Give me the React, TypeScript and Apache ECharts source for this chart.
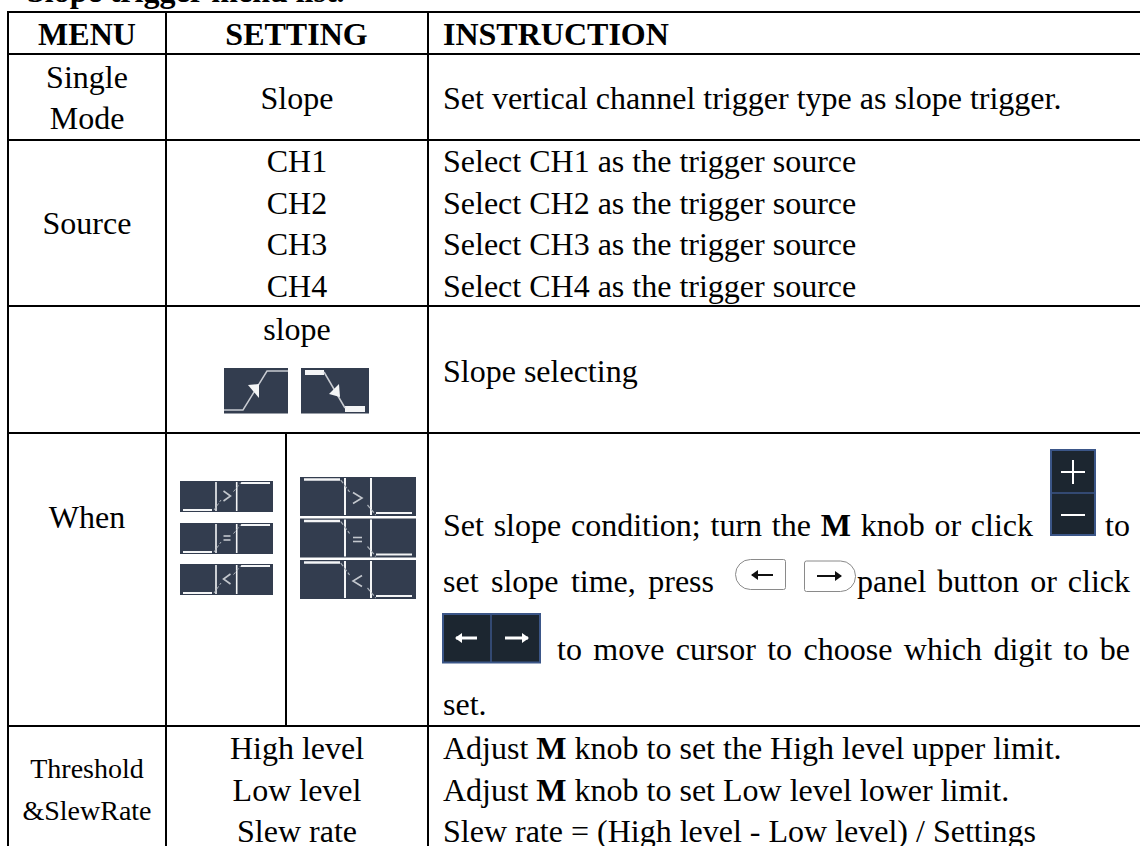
import React, { useEffect, useRef } from "react";
import * as echarts from "echarts";

const titleText = "Slope trigger menu list.";
const headers = ["MENU", "SETTING", "INSTRUCTION"];
const menuLabels = ["Single", "Mode", "Source", "When"];
const thresholdLabels = ["Threshold", "&SlewRate"];
const slopeSetting = ["Slope"];
const channels = ["CH1", "CH2", "CH3", "CH4"];
const slopeLabel = ["slope"];
const levelLabels = ["High level", "Low level", "Slew rate"];
const singleInstruction = ["Set vertical channel trigger type as slope trigger."];
const channelInstructions = [
  "Select CH1 as the trigger source",
  "Select CH2 as the trigger source",
  "Select CH3 as the trigger source",
  "Select CH4 as the trigger source",
];
const slopeInstruction = ["Slope selecting"];
const whenLine1a = "Set slope condition; turn the M knob or click";
const whenLine1b = "to";
const whenLine2a = "set slope time, press";
const whenLine2b = "panel button or click";
const whenLine3 = "to move cursor to choose which digit to be";
const whenLine4 = "set.";
const thresholdLines = [
  "Adjust M knob to set the High level upper limit.",
  "Adjust M knob to set Low level lower limit.",
  "Slew rate = (High level - Low level) / Settings",
];
const comparators = [">", "=", "<"];

const SERIF = '"Liberation Serif", serif';
const BLACK = "#000";
const SIZE = 32;

const measure = (() => {
  const ctx = document.createElement("canvas").getContext("2d")!;
  return (t: string, font: string) => {
    ctx.font = font;
    return ctx.measureText(t).width;
  };
})();

const fontOf = (size: number, bold = false) => `${bold ? "bold " : ""}${size}px ${SERIF}`;

function txt(text: string, x: number, y: number, size = SIZE, bold = false, align = "left"): any {
  return {
    type: "text",
    silent: true,
    style: { text, x, y, font: fontOf(size, bold), fill: BLACK, textAlign: align, textVerticalAlign: "middle" },
  };
}

function ln(x1: number, y1: number, x2: number, y2: number, stroke = BLACK, lineWidth = 2, lineDash?: number[]): any {
  return { type: "line", silent: true, shape: { x1, y1, x2, y2 }, style: { stroke, lineWidth, lineDash } };
}

function box(x: number, y: number, width: number, height: number, fill: string, stroke?: string, lineWidth = 0): any {
  return { type: "rect", silent: true, shape: { x, y, width, height }, style: { fill, stroke, lineWidth } };
}

// Line with a bold "M": split into runs set one after the other
function mixedLine(line: string, x: number, y: number): any[] {
  const parts = line.split(" M ");
  if (parts.length < 2) return [txt(line, x, y)];
  const out: any[] = [];
  let cx = x;
  const space = measure(" ", fontOf(SIZE));
  out.push(txt(parts[0], cx, y));
  cx += measure(parts[0], fontOf(SIZE)) + space;
  out.push(txt("M", cx, y, SIZE, true));
  cx += measure("M", fontOf(SIZE, true)) + space;
  out.push(txt(parts[1], cx, y));
  return out;
}

// Justified line: words spread evenly between x0 and x1
function justified(line: string, x0: number, x1: number, y: number): any[] {
  const words = line.split(" ");
  const widths = words.map((w) => measure(w, fontOf(SIZE, w === "M")));
  const total = widths.reduce((a, b) => a + b, 0);
  const gap = (x1 - x0 - total) / (words.length - 1);
  const out: any[] = [];
  let cx = x0;
  words.forEach((w, i) => {
    out.push(txt(w, cx, y, SIZE, w === "M"));
    cx += widths[i] + gap;
  });
  return out;
}

const DARK = "#333d4f";
const WHITE = "#f4f5f6";
const GREY = "#aab0b8";
const SYMBOL = "#c3c7cd";

function slopeIcons(): any[] {
  return [
    box(224, 368, 64, 45.5, DARK),
    { type: "polyline", silent: true, shape: { points: [[224, 410], [243, 410], [267, 371], [288, 371]] }, style: { stroke: "#c9ccd2", lineWidth: 1.5, fill: "none" } },
    { type: "polygon", silent: true, shape: { points: [[248, 385], [259, 384], [259, 398]] }, style: { fill: WHITE } },
    box(301, 368, 68, 45.5, DARK),
    box(305, 370, 19, 5, WHITE),
    box(345, 406, 20, 6, WHITE),
    ln(324, 372, 345, 408, "#c9ccd2", 1.5),
    { type: "polygon", silent: true, shape: { points: [[339, 384], [340, 397], [329, 394]] }, style: { fill: WHITE } },
  ];
}

function comparator(sym: string, x: number, y: number, w: number, h: number): any[] {
  if (sym === "=") {
    return [ln(x - w / 2, y - 2, x + w / 2, y - 2, SYMBOL, 1.6), ln(x - w / 2, y + 2, x + w / 2, y + 2, SYMBOL, 1.6)];
  }
  const d = sym === ">" ? 1 : -1;
  return [
    {
      type: "polyline",
      silent: true,
      shape: { points: [[x - (d * w) / 2, y - h / 2], [x + (d * w) / 2, y], [x - (d * w) / 2, y + h / 2]] },
      style: { stroke: SYMBOL, lineWidth: 1.6, fill: "none" },
    },
  ];
}

function risingIcon(y0: number, h: number, sym: string): any[] {
  return [
    box(180, y0, 93, h, DARK),
    ln(183, y0 + 29, 212, y0 + 29, WHITE, 2),
    ln(216, y0 + 1, 216, y0 + h - 1, WHITE, 1.6),
    ln(236.7, y0 + 1, 236.7, y0 + h - 1, WHITE, 1.6),
    ln(241, y0 + 2, 270, y0 + 2, WHITE, 2),
    ln(214, y0 + 29, 221, y0 + 19, GREY, 1, [3, 2]),
    ln(233.5, y0 + 10.6, 241, y0 + 1.6, GREY, 1, [3, 2]),
    ...comparator(sym, 227, y0 + 15, 7, 10),
  ];
}

function fallingIcon(y0: number, h: number, sym: string): any[] {
  return [
    box(300, y0, 116, h, DARK),
    ln(304, y0 + 2.5, 340, y0 + 2.5, WHITE, 2.4),
    ln(345, y0 + 1, 345, y0 + h - 1, WHITE, 2),
    ln(371, y0 + 1, 371, y0 + h - 1, WHITE, 2),
    ln(376, y0 + 36, 412, y0 + 36, WHITE, 2.2),
    ln(340.7, y0 + 3, 349.6, y0 + 15, GREY, 1.2, [4, 2]),
    ln(367.5, y0 + 28, 375.7, y0 + 38, GREY, 1.2, [4, 2]),
    ...comparator(sym, 357.5, y0 + 21, 9, 11),
  ];
}

function plusMinus(): any[] {
  const border = "#3b5688";
  const fill = "#1c2630";
  return [
    box(1051, 450, 44, 85, fill, border, 2),
    ln(1050, 493, 1096, 493, border, 1.5),
    ln(1061, 472, 1085, 472, "#fff", 2),
    ln(1073, 460, 1073, 484, "#fff", 2),
    ln(1061, 515, 1085, 515, "#fff", 2),
  ];
}

function arrow(tail: number, head: number, y: number, color: string, w: number, barb: number): any[] {
  const dir = head > tail ? 1 : -1;
  return [
    ln(tail, y, head, y, color, w),
    { type: "polygon", silent: true, shape: { points: [[head - dir * barb, y - barb * 0.85], [head + dir, y], [head - dir * barb, y + barb * 0.85]] }, style: { fill: color } },
  ];
}

function panelButtons(): any[] {
  const edge = "#8a8a8a";
  return [
    { type: "rect", silent: true, shape: { x: 735.5, y: 559.5, width: 50, height: 30, r: [15, 2, 2, 15] }, style: { fill: "#fff", stroke: edge, lineWidth: 1 } },
    { type: "rect", silent: true, shape: { x: 804.5, y: 561, width: 51, height: 30.5, r: [2, 15, 15, 2] }, style: { fill: "#fff", stroke: edge, lineWidth: 1 } },
    ...arrow(773, 752, 575, "#111", 2, 6),
    ...arrow(817, 841, 576, "#111", 2, 6),
  ];
}

function arrowPair(): any[] {
  const border = "#3b5688";
  const fill = "#1c2630";
  return [
    box(443, 614, 97, 48.5, fill, border, 2),
    ln(491, 613, 491, 663, border, 1.5),
    ...arrow(477, 456, 638, "#fff", 3, 6),
    ...arrow(505, 528, 638, "#fff", 3, 6),
  ];
}

function buildElements(): any[] {
  const colA = 8, colB = 166, colMid = 286, colC = 428, right = 1140;
  const rows = [12, 54, 140, 306, 433, 726];
  const bottom = 846;
  const el: any[] = [];

  el.push(txt(titleText, 27, -9.5, SIZE, true));

  [colA, colB, colC].forEach((x) => el.push(ln(x, rows[0] - 1, x, bottom)));
  el.push(ln(colMid, rows[4], colMid, rows[5]));
  rows.forEach((y) => el.push(ln(colA - 1, y, right, y)));

  const cA = (colA + colB) / 2;
  const cB = (colB + colC) / 2;
  const xC = 443;
  const xR = 1130;

  el.push(txt(headers[0], cA, 34, SIZE, true, "center"));
  el.push(txt(headers[1], 296.5, 34, SIZE, true, "center"));
  el.push(txt(headers[2], xC, 34, SIZE, true));

  el.push(txt(menuLabels[0], cA, 76.5, SIZE, false, "center"));
  el.push(txt(menuLabels[1], cA, 117.5, SIZE, false, "center"));
  el.push(txt(slopeSetting[0], cB, 97.5, SIZE, false, "center"));
  el.push(txt(singleInstruction[0], xC, 97.5));

  el.push(txt(menuLabels[2], cA, 223, SIZE, false, "center"));
  channels.forEach((c, i) => {
    const y = 161 + i * 41.6;
    el.push(txt(c, cB, y, SIZE, false, "center"));
    el.push(txt(channelInstructions[i], xC, y));
  });

  el.push(txt(menuLabels[3], cA, 517, SIZE, false, "center"));
  el.push(txt(slopeLabel[0], cB, 328.5, SIZE, false, "center"));
  el.push(txt(slopeInstruction[0], xC, 371));
  el.push(...slopeIcons());

  const risingTop = [481, 523, 564];
  const fallingTop = [477, 518.5, 560];
  comparators.forEach((s, i) => {
    el.push(...risingIcon(risingTop[i], 31, s));
    el.push(...fallingIcon(fallingTop[i], 39, s));
  });

  el.push(...justified(whenLine1a, xC, 1033, 525));
  el.push(txt(whenLine1b, xR, 525, SIZE, false, "right"));
  el.push(...justified(whenLine2a, xC, 714, 581));
  el.push(...justified(whenLine2b, 857, xR, 581));
  el.push(...justified(whenLine3, 557, xR, 649));
  el.push(txt(whenLine4, xC, 704));
  el.push(...plusMinus(), ...panelButtons(), ...arrowPair());

  el.push(txt(thresholdLabels[0], cA, 768, 28, false, "center"));
  el.push(txt(thresholdLabels[1], cA, 810.5, 28, false, "center"));
  levelLabels.forEach((l, i) => {
    const y = 748 + i * 41.5;
    el.push(txt(l, cB, y, SIZE, false, "center"));
    el.push(...mixedLine(thresholdLines[i], xC, y));
  });
  return el;
}

export default function App() {
  const ref = useRef<HTMLDivElement>(null);
  useEffect(() => {
    const chart = echarts.init(ref.current!, undefined, { renderer: "svg" });
    chart.setOption({ animation: false, backgroundColor: "#fff", graphic: { elements: buildElements() } });
    return () => chart.dispose();
  }, []);
  return <div ref={ref} style={{ position: "absolute", left: 0, top: 0, width: 1140, height: 846 }} />;
}
